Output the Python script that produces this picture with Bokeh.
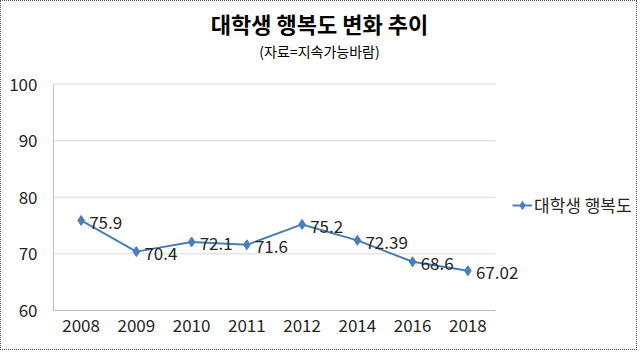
from bokeh.plotting import figure
from bokeh.models import Label, LabelSet, Legend, LegendItem, ColumnDataSource, FixedTicker, Range1d
from bokeh.core.properties import value
from bokeh.embed import file_html
from bokeh.resources import INLINE

years = ["2008", "2009", "2010", "2011", "2012", "2014", "2016", "2018"]
happiness = [75.9, 70.4, 72.1, 71.6, 75.2, 72.39, 68.6, 67.02]
value_labels = ["75.9", "70.4", "72.1", "71.6", "75.2", "72.39", "68.6", "67.02"]
series_name = "대학생 행복도"
y_ticks = [60, 70, 80, 90, 100]
chart_title = "대학생 행복도 변화 추이"
chart_subtitle = "(자료=지속가능바람)"

FONT = "Noto Sans CJK KR"
BLUE = "#4a7ebb"
GRID = "#d9d9d9"
AXIS = "#bfbfbf"
TXT = "#262626"

n = len(years)
x_pos = [i + 0.5 for i in range(n)]
src = ColumnDataSource(dict(x=x_pos, years=years, happiness=happiness, labels=value_labels))

# frame spans whole canvas to the right/top so labels and legend are not clipped
p = figure(width=637, height=350, x_range=Range1d(0, 10.588), y_range=Range1d(60, 114.57),
           output_backend="svg", toolbar_location=None,
           min_border_left=52, min_border_right=0, min_border_top=0, min_border_bottom=41)
p.styles = {"border": "1px dotted #555555"}
p.outline_line_color = None
p.background_fill_color = "white"
p.xgrid.grid_line_color = None
p.ygrid.grid_line_color = None

# horizontal gridlines over the category span only
p.segment(x0=[0] * len(y_ticks), x1=[n] * len(y_ticks), y0=y_ticks, y1=y_ticks,
          line_color=GRID, line_width=1)

p.yaxis.ticker = FixedTicker(ticks=y_ticks)
p.yaxis.bounds = (y_ticks[0], y_ticks[-1])
p.xaxis.ticker = FixedTicker(ticks=x_pos)
p.xaxis.major_label_overrides = {x: y for x, y in zip(x_pos, years)}
p.xaxis.bounds = (0, n)
for ax in (p.xaxis, p.yaxis):
    ax.axis_line_color = AXIS
    ax.major_tick_line_color = None
    ax.minor_tick_line_color = None
    ax.major_tick_out = 0
    ax.major_tick_in = 0
    ax.major_label_text_font = FONT
    ax.major_label_text_font_size = "17px"
    ax.major_label_text_color = TXT
p.yaxis.major_label_standoff = 16
p.xaxis.major_label_standoff = 8

line = p.line("x", "happiness", source=src, line_color=BLUE, line_width=2)
pts = p.scatter("x", "happiness", source=src, marker="diamond", size=10,
                fill_color=BLUE, line_color=BLUE)

labels = LabelSet(x="x", y="happiness", text="labels", source=src,
                  x_offset=8, y_offset=-2, text_baseline="middle", text_font=value(FONT),
                  text_font_size=value("17px"), text_color=TXT)
p.add_layout(labels)

legend = Legend(items=[LegendItem(label=series_name, renderers=[line, pts])],
                location=(459, 93), padding=0, margin=0, spacing=0,
                glyph_width=20, glyph_height=20, label_height=20, label_standoff=2,
                label_text_font=FONT, label_text_font_size="17px", label_text_color=TXT,
                border_line_color=None, background_fill_alpha=0)
p.add_layout(legend)

p.add_layout(Label(x=266, y=288, x_units="screen", y_units="screen", text=chart_title,
                   text_align="center", text_baseline="middle", text_font=FONT,
                   text_font_size="22px", text_font_style="bold", text_color="black"))
p.add_layout(Label(x=266, y=260, x_units="screen", y_units="screen", text=chart_subtitle,
                   text_align="center", text_baseline="middle", text_font=FONT,
                   text_font_size="14px", text_color="black"))

open("out.html", "w").write(file_html(p, INLINE))
